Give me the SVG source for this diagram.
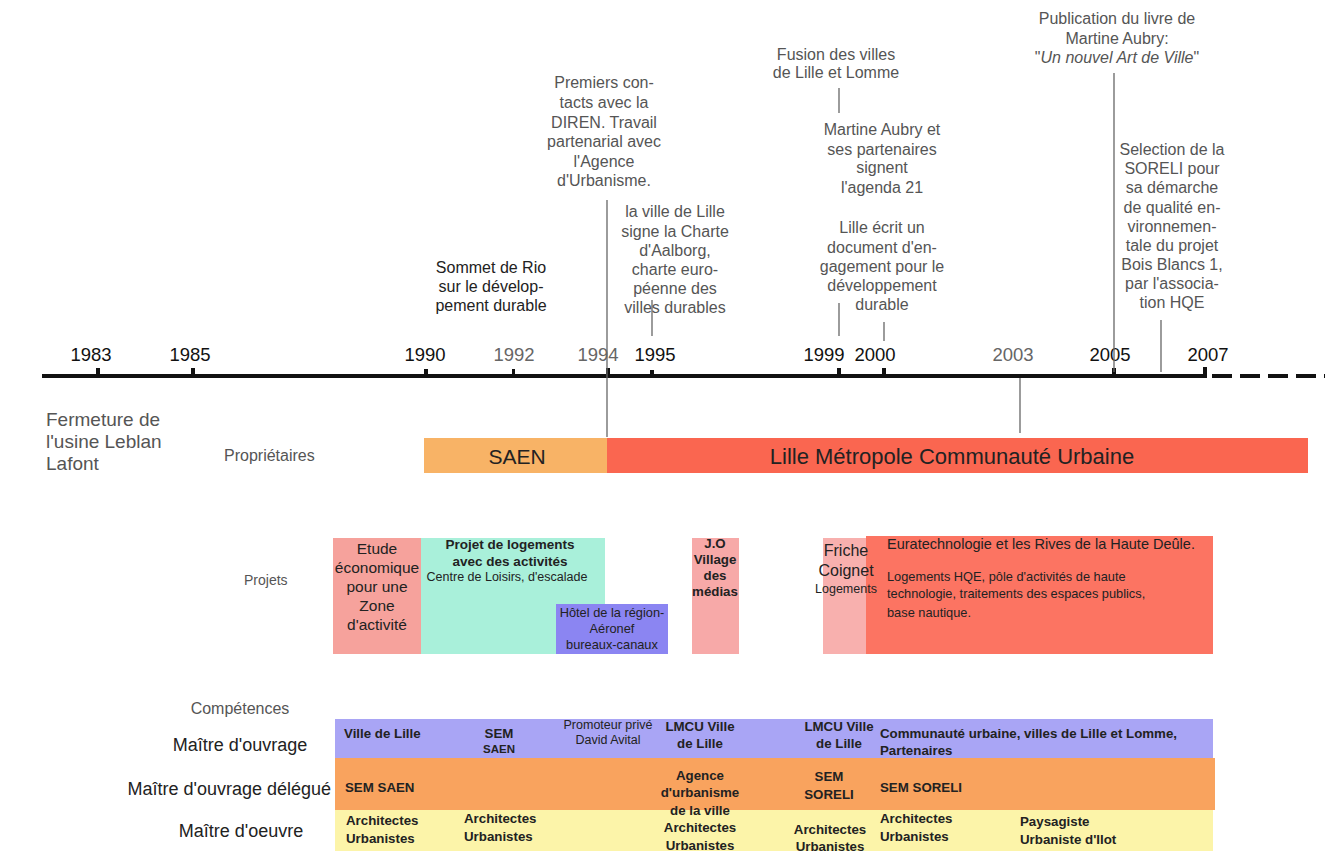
<svg xmlns="http://www.w3.org/2000/svg" width="1325" height="853" viewBox="0 0 1325 853">
<style>
text{font-family:"Liberation Sans",Arial,sans-serif}
.ev{font-size:16px;fill:#555;text-anchor:middle}
.yr{font-size:18.5px;fill:#111;text-anchor:middle}
.yg{font-size:18.5px;fill:#666;text-anchor:middle}
.row{font-size:15.5px;fill:#222;text-anchor:middle}
.b{font-size:13.3px;fill:#222;font-weight:bold}
.bc{font-size:13.3px;fill:#222;font-weight:bold;text-anchor:middle}
.s{font-size:12.8px;fill:#222}
.sc{font-size:12.8px;fill:#222;text-anchor:middle}
.hd{font-size:18px;fill:#222;text-anchor:middle}
.vl{stroke:#666;stroke-width:1.3;fill:none}
.tick{fill:#111}
</style>
<rect width="1325" height="853" fill="#fff"/>

<g id="axis">
<rect x="42" y="374" width="1165" height="4" fill="#111"/>
<line x1="1212" y1="376" x2="1325" y2="376" stroke="#111" stroke-width="4" stroke-dasharray="20,8"/>
<rect class="tick" x="96" y="368" width="4" height="9"/>
<rect class="tick" x="191" y="368" width="4" height="9"/>
<rect class="tick" x="424" y="369" width="4" height="8"/>
<rect class="tick" x="512" y="369" width="3" height="8"/>
<rect class="tick" x="606" y="368" width="4" height="9"/>
<rect class="tick" x="650" y="370" width="4" height="7"/>
<rect class="tick" x="837" y="368" width="4" height="9"/>
<rect class="tick" x="882" y="368" width="4" height="9"/>
<rect class="tick" x="1112" y="368" width="4" height="9"/>
<rect class="tick" x="1203" y="367" width="4" height="11"/>
<text class="yr" x="91" y="361">1983</text>
<text class="yr" x="190" y="361">1985</text>
<text class="yr" x="425" y="361">1990</text>
<text class="yg" x="514" y="361">1992</text>
<text class="yg" x="598" y="361">1994</text>
<text class="yr" x="655" y="361">1995</text>
<text class="yr" x="824" y="361">1999</text>
<text class="yr" x="875" y="361">2000</text>
<text class="yg" x="1013" y="361">2003</text>
<text class="yr" x="1110" y="361">2005</text>
<text class="yr" x="1208" y="361">2007</text>
</g>

<g id="connectors">
<line class="vl" x1="607" y1="200" x2="607" y2="437"/>
<line class="vl" x1="652" y1="300" x2="652" y2="336"/>
<line class="vl" x1="839" y1="88" x2="839" y2="113"/>
<line class="vl" x1="839" y1="303" x2="839" y2="336"/>
<line class="vl" x1="884" y1="322" x2="884" y2="341"/>
<line class="vl" x1="1020" y1="378" x2="1020" y2="433"/>
<line class="vl" x1="1114" y1="73" x2="1114" y2="372"/>
<line class="vl" x1="1161" y1="320" x2="1161" y2="372"/>
</g>

<g id="ev-publication">
<text class="ev" x="1117" y="24">Publication du livre de</text>
<text class="ev" x="1117" y="44">Martine Aubry:</text>
<text class="ev" x="1117" y="63">"<tspan font-style="italic">Un nouvel Art de Ville</tspan>"</text>
</g>
<g id="ev-fusion">
<text class="ev" x="836" y="60">Fusion des villes</text>
<text class="ev" x="836" y="78">de Lille et Lomme</text>
</g>
<g id="ev-agenda">
<text class="ev" x="882" y="135">Martine Aubry et</text>
<text class="ev" x="882" y="155">ses partenaires</text>
<text class="ev" x="882" y="173">signent</text>
<text class="ev" x="882" y="193">l'agenda 21</text>
</g>
<g id="ev-engagement">
<text class="ev" x="882" y="233">Lille écrit un</text>
<text class="ev" x="882" y="253">document d'en-</text>
<text class="ev" x="882" y="272">gagement pour le</text>
<text class="ev" x="882" y="291">développement</text>
<text class="ev" x="882" y="310">durable</text>
</g>
<g id="ev-diren">
<text class="ev" x="604" y="88">Premiers con-</text>
<text class="ev" x="604" y="108">tacts avec la</text>
<text class="ev" x="604" y="128">DIREN. Travail</text>
<text class="ev" x="604" y="147">partenarial avec</text>
<text class="ev" x="604" y="167">l'Agence</text>
<text class="ev" x="604" y="186">d'Urbanisme.</text>
</g>
<g id="ev-aalborg">
<text class="ev" x="675" y="217">la ville de Lille</text>
<text class="ev" x="675" y="237">signe la Charte</text>
<text class="ev" x="675" y="256">d'Aalborg,</text>
<text class="ev" x="675" y="275">charte euro-</text>
<text class="ev" x="675" y="294">péenne des</text>
<text class="ev" x="675" y="313">villes durables</text>
</g>
<g id="ev-rio">
<text class="ev" x="491" y="273" style="fill:#222">Sommet de Rio</text>
<text class="ev" x="491" y="292" style="fill:#222">sur le dévelop-</text>
<text class="ev" x="491" y="311" style="fill:#222">pement durable</text>
</g>
<g id="ev-soreli">
<text class="ev" x="1172" y="155">Selection de la</text>
<text class="ev" x="1172" y="174">SORELI pour</text>
<text class="ev" x="1172" y="193">sa démarche</text>
<text class="ev" x="1172" y="213">de qualité en-</text>
<text class="ev" x="1172" y="232">vironnemen-</text>
<text class="ev" x="1172" y="251">tale du projet</text>
<text class="ev" x="1172" y="270">Bois Blancs 1,</text>
<text class="ev" x="1172" y="289">par l'associa-</text>
<text class="ev" x="1172" y="308">tion HQE</text>
</g>
<g id="ev-fermeture">
<text x="46" y="426" font-size="19" fill="#555">Fermeture de</text>
<text x="46" y="448" font-size="19" fill="#555">l'usine Leblan</text>
<text x="46" y="470" font-size="19" fill="#555">Lafont</text>
</g>

<g id="proprietaires">
<text x="224" y="461" font-size="16" fill="#555">Propriétaires</text>
<rect x="424" y="438" width="183" height="35" fill="#F8B366"/>
<text x="517" y="464" font-size="21" fill="#222" text-anchor="middle">SAEN</text>
<rect x="607" y="438" width="701" height="35" fill="#FA6650"/>
<text x="952" y="464" font-size="22" fill="#222" text-anchor="middle">Lille Métropole Communauté Urbaine</text>
</g>

<g id="projets">
<text x="244" y="585" font-size="14" fill="#555">Projets</text>
</g>
<g id="p-etude">
<rect x="333" y="538" width="88" height="116" fill="#F6A29C"/>
<text class="row" x="377" y="554">Etude</text>
<text class="row" x="377" y="573">économique</text>
<text class="row" x="377" y="592">pour une</text>
<text class="row" x="377" y="611">Zone</text>
<text class="row" x="377" y="630">d'activité</text>
</g>
<g id="p-logements">
<rect x="421" y="538" width="184" height="116" fill="#A9F0DA"/>
<text class="bc" x="510" y="549" style="font-size:13.5px">Projet de logements</text>
<text class="bc" x="510" y="566" style="font-size:13.5px">avec des activités</text>
<text class="sc" x="507" y="581" style="font-size:12.5px">Centre de Loisirs, d'escalade</text>
</g>
<g id="p-hotel">
<rect x="556" y="604" width="112" height="50" fill="#8B85F2"/>
<text class="sc" x="612" y="617">Hôtel de la région-</text>
<text class="sc" x="612" y="633">Aéronef</text>
<text class="sc" x="612" y="649">bureaux-canaux</text>
</g>
<g id="p-jo">
<rect x="692" y="538" width="47" height="116" fill="#F7A9A8"/>
<text class="bc" x="715" y="548">J.O</text>
<text class="bc" x="715" y="564">Village</text>
<text class="bc" x="715" y="580">des</text>
<text class="bc" x="715" y="596">médias</text>
</g>
<g id="p-euratech">
<rect x="866" y="536" width="347" height="118" fill="#FC7462"/>
<text x="887" y="549" font-size="14.5" fill="#222">Euratechnologie et les Rives de la Haute Deûle.</text>
<text class="s" x="887" y="581">Logements HQE, pôle d'activités de haute</text>
<text class="s" x="887" y="598">technologie, traitements des espaces publics,</text>
<text class="s" x="887" y="617">base nautique.</text>
</g>
<g id="p-friche">
<rect x="823" y="538" width="43" height="116" fill="#F8B0AE"/>
<text x="846" y="556" font-size="16" fill="#222" text-anchor="middle">Friche</text>
<text x="846" y="576" font-size="16" fill="#222" text-anchor="middle">Coignet</text>
<text x="846" y="593" font-size="12.5" fill="#222" text-anchor="middle">Logements</text>
</g>

<g id="competences">
<text x="240" y="714" font-size="16" fill="#555" text-anchor="middle">Compétences</text>
</g>
<g id="r-ouvrage">
<text class="hd" x="240" y="751">Maître d'ouvrage</text>
<rect x="335" y="719" width="878" height="39" fill="#A9A5F5"/>
<text class="b" x="344" y="738">Ville de Lille</text>
<text class="bc" x="499" y="738">SEM</text>
<text class="bc" x="499" y="753" style="font-size:11.5px">SAEN</text>
<text class="sc" x="608" y="729" style="font-size:12.5px">Promoteur privé</text>
<text class="sc" x="608" y="744" style="font-size:12.5px">David Avital</text>
<text class="bc" x="700" y="731">LMCU Ville</text>
<text class="bc" x="700" y="748">de Lille</text>
<text class="bc" x="839" y="731">LMCU Ville</text>
<text class="bc" x="839" y="748">de Lille</text>
<text class="b" x="880" y="738">Communauté urbaine, villes de Lille et Lomme,</text>
<text class="b" x="880" y="755">Partenaires</text>
</g>
<g id="r-delegue">
<text class="hd" x="331" y="795" style="text-anchor:end">Maître d'ouvrage délégué</text>
<rect x="335" y="758" width="880" height="52" fill="#F9A35E"/>
<text class="b" x="345" y="792">SEM SAEN</text>
<text class="bc" x="700" y="780">Agence</text>
<text class="bc" x="700" y="797">d'urbanisme</text>
<text class="bc" x="829" y="781">SEM</text>
<text class="bc" x="829" y="799">SORELI</text>
<text class="b" x="880" y="792">SEM SORELI</text>
</g>
<g id="r-oeuvre">
<text class="hd" x="241" y="837">Maître d'oeuvre</text>
<rect x="335" y="810" width="878" height="41" fill="#FCF4A9"/>
<text class="b" x="346" y="825">Architectes</text>
<text class="b" x="346" y="843">Urbanistes</text>
<text class="b" x="464" y="823">Architectes</text>
<text class="b" x="464" y="841">Urbanistes</text>
<text class="bc" x="700" y="815">de la ville</text>
<text class="bc" x="700" y="832">Architectes</text>
<text class="bc" x="700" y="850">Urbanistes</text>
<text class="bc" x="830" y="834">Architectes</text>
<text class="bc" x="830" y="851">Urbanistes</text>
<text class="b" x="880" y="823">Architectes</text>
<text class="b" x="880" y="841">Urbanistes</text>
<text class="b" x="1020" y="826">Paysagiste</text>
<text class="b" x="1020" y="844">Urbaniste d'Ilot</text>
</g>
</svg>
